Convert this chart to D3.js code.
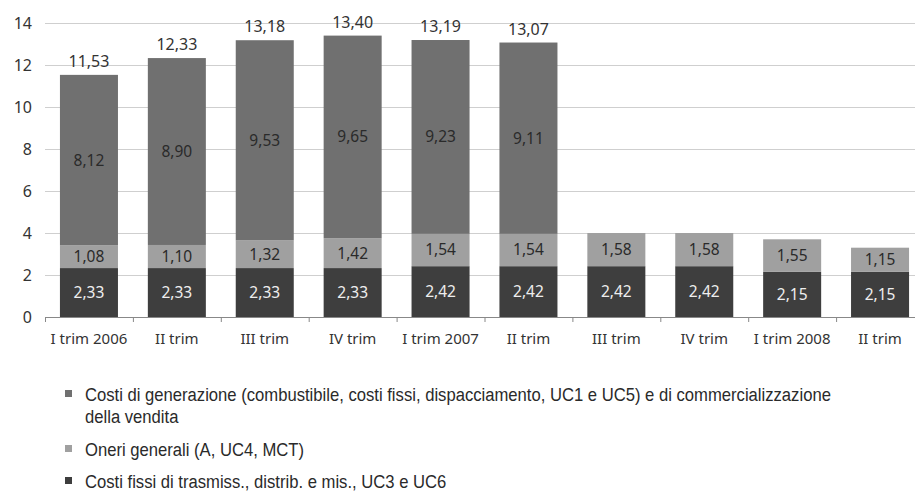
<!DOCTYPE html>
<html><head><meta charset="utf-8">
<script src="https://cdn.jsdelivr.net/npm/d3@7"></script>
<style>
html,body{margin:0;padding:0;background:#fff;}
svg{display:block;}
</style></head>
<body>
<svg id="chart" width="915" height="494"></svg>
<script>
const categories = ["I trim 2006","II trim","III trim","IV trim","I trim 2007","II trim","III trim","IV trim","I trim 2008","II trim"];
const trasmissione = [2.33,2.33,2.33,2.33,2.42,2.42,2.42,2.42,2.15,2.15];
const oneri = [1.08,1.10,1.32,1.42,1.54,1.54,1.58,1.58,1.55,1.15];
const generazione = [8.12,8.90,9.53,9.65,9.23,9.11,null,null,null,null];
const totali = [11.53,12.33,13.18,13.40,13.19,13.07,null,null,null,null];
const yTicks = [0,2,4,6,8,10,12,14];
const legendLines = [
  ["Costi di generazione (combustibile, costi fissi, dispacciamento, UC1 e UC5) e di commercializzazione","della vendita"],
  ["Oneri generali (A, UC4, MCT)"],
  ["Costi fissi di trasmiss., distrib. e mis., UC3 e UC6"]
];

const colors = {trasm:"#3e3e3e", oneri:"#a0a0a0", gen:"#707070"};
const fmt = v => v.toFixed(2).replace(".", ",");
const font = "'Noto Sans', sans-serif";

const svg = d3.select("#chart");
const rows = categories.map((c,i)=>({i, trasm:trasmissione[i], oneri:oneri[i], gen:generazione[i]||0, tot:totali[i]}));

const x = d3.scaleBand().domain(d3.range(categories.length)).range([45, 924]).paddingInner(0.34).paddingOuter(0.17);
const y = d3.scaleLinear().domain([0,14]).range([317, 23]);

// gridlines
svg.append("g").selectAll("line").data(yTicks.filter(t=>t>0)).join("line")
  .attr("x1",45).attr("x2",915).attr("y1",d=>y(d)+0.5).attr("y2",d=>y(d)+0.5)
  .attr("stroke","#cfcfcf").attr("stroke-width",1);

// y labels
svg.append("g").selectAll("text").data(yTicks).join("text")
  .attr("x",32).attr("y",d=>y(d)).attr("dy","0.35em").attr("text-anchor","end")
  .attr("font-family",font).attr("font-size",16).attr("fill","#333")
  .text(d=>d);

const stacked = d3.stack().keys(["trasm","oneri","gen"])(rows);

const g = svg.append("g");
stacked.forEach(layer=>{
  const data = layer.filter(d=>d[1]>d[0]);
  g.append("g").selectAll("rect").data(data).join("rect")
    .attr("x",d=>x(d.data.i)).attr("width",x.bandwidth())
    .attr("y",d=>y(d[1])).attr("height",d=>y(d[0])-y(d[1]))
    .attr("fill",colors[layer.key]);
  g.append("g").selectAll("text").data(data).join("text")
    .attr("x",d=>x(d.data.i)+x.bandwidth()/2).attr("y",d=>y((d[0]+d[1])/2)).attr("dy","0.35em")
    .attr("text-anchor","middle")
    .attr("font-family",font).attr("font-size",15.5)
    .attr("fill",layer.key==="trasm" ? "#eeeeee" : "#2a2a2a")
    .text(d=>fmt(d[1]-d[0]));
});

// totals
svg.append("g").selectAll("text").data(rows.filter(r=>r.tot!=null)).join("text")
  .attr("x",d=>x(d.i)+x.bandwidth()/2).attr("y",d=>y(d.tot)-8)
  .attr("text-anchor","middle")
  .attr("font-family",font).attr("font-size",16).attr("fill","#333")
  .text(d=>fmt(d.tot));

// x axis
const ax = svg.append("g");
ax.append("line").attr("x1",45).attr("x2",915).attr("y1",317.5).attr("y2",317.5).attr("stroke","#888");
ax.selectAll("line.tk").data(d3.range(categories.length+1)).join("line").attr("class","tk")
  .attr("x1",i=>x(0)-x.step()*0.17+i*x.step()+0.5).attr("x2",i=>x(0)-x.step()*0.17+i*x.step()+0.5)
  .attr("y1",317).attr("y2",322).attr("stroke","#888");
ax.selectAll("text").data(rows).join("text")
  .attr("x",d=>x(d.i)+x.bandwidth()/2).attr("y",339).attr("dy","0.35em")
  .attr("text-anchor","middle")
  .attr("font-family",font).attr("font-size",15).attr("fill","#333")
  .text(d=>categories[d.i]);

// legend
const legFont = "'Liberation Sans', Arial, sans-serif";
const leg = svg.append("g");
const legItems = [
  {color:colors.gen, lines:legendLines[0], y:395},
  {color:colors.oneri, lines:legendLines[1], y:450},
  {color:colors.trasm, lines:legendLines[2], y:482}
];
legItems.forEach(it=>{
  leg.append("rect").attr("x",65).attr("y",it.y-5).attr("width",7).attr("height",7).attr("fill",it.color);
  it.lines.forEach((ln,k)=>{
    leg.append("text")
      .attr("transform",`translate(85,${it.y+k*22}) scale(0.9,1)`)
      .attr("dy","0.35em")
      .attr("font-family",legFont).attr("font-size",18.5).attr("fill","#2a2a2a").text(ln);
  });
});
</script>
</body></html>
